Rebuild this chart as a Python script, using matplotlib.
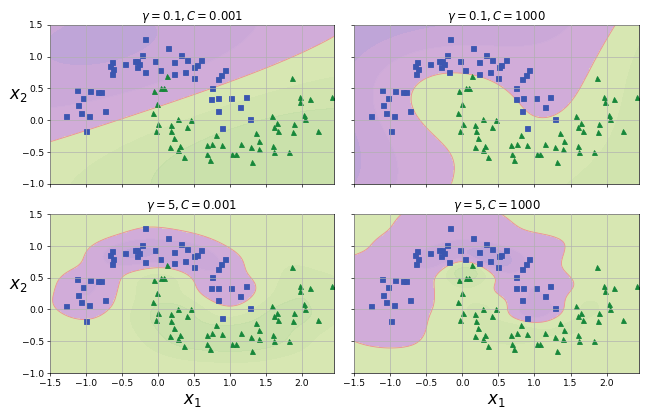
import numpy as np
import matplotlib
matplotlib.use("Agg")
import matplotlib.pyplot as plt
from matplotlib.colors import ListedColormap

# class 0 (blue squares)
blue_x1 = [-0.17, 0.15, -0.22, 0.33, 0.41, -0.63, -0.66, -0.62, -0.64, -0.45, -0.32, -0.28, -0.29, -0.26,
           -0.18, -0.04, 0.03, 0.23, 0.23, 0.38, 0.51, 0.50, 0.60, 0.54,
           -1.12, -0.94, -0.83, -0.78, -1.03, -1.10, -1.06, -0.95, -0.73, -1.27, -0.99,
           0.93, 0.88, 0.83, 0.75, 0.74, 0.84, 1.02, 1.22, 1.14, 0.83, 1.28, 0.89]
blue_x2 = [1.28, 1.13, 1.02, 1.03, 0.95, 0.92, 0.85, 0.80, 0.72, 0.89, 0.93, 0.93, 0.84, 0.88,
           0.75, 0.93, 0.79, 0.91, 0.73, 0.76, 0.84, 0.67, 0.94, 0.86,
           0.48, 0.46, 0.44, 0.44, 0.35, 0.23, 0.11, 0.07, 0.14, 0.06, -0.18,
           0.79, 0.71, 0.64, 0.51, 0.33, 0.34, 0.34, 0.37, 0.21, 0.14, 0.02, -0.13]
# class 1 (green triangles)
green_x1 = [0.13, -0.05, 0.05, 0.09, -0.01, -0.06, 0.01, -0.03, 0.18, 0.28, 0.19, 0.41, 0.46, 0.22,
            1.87, 1.97, 1.98, 2.11, 2.42, 1.58, 2.03, 2.05, 1.65, 1.61, 1.67, 1.89, 1.88, 2.23,
            0.17, 0.31, 0.28, 0.36, 0.68, 0.76, 0.81, 0.89, 0.69, 0.72, 1.03, 1.08, 1.15, 1.29,
            1.36, 1.41, 1.40, 1.60, 1.62, 1.82, 1.31]
green_x2 = [0.70, 0.46, 0.50, 0.50, 0.25, 0.11, -0.06, -0.17, -0.07, 0.01, -0.18, -0.11, 0.0, -0.29,
            0.66, 0.36, 0.29, 0.33, 0.36, 0.06, 0.08, 0.01, -0.05, -0.11, -0.17, -0.06, -0.19, -0.17,
            -0.42, -0.41, -0.47, -0.58, -0.40, -0.38, -0.24, -0.39, -0.54, -0.63, -0.54, -0.54, -0.37, -0.43,
            -0.21, -0.33, -0.46, -0.41, -0.50, -0.50, -0.66]

settings = [(0.1, 0.001), (0.1, 1000), (5, 0.001), (5, 1000)]

X = np.column_stack([blue_x1 + green_x1, blue_x2 + green_x2])
y = np.array([0] * len(blue_x1) + [1] * len(green_x1))
mu, sd = X.mean(0), X.std(0)
Xs = (X - mu) / sd
ys = np.where(y == 1, 1.0, -1.0)


def rbf(A, B, gamma):
    d = ((A[:, None, :] - B[None, :, :]) ** 2).sum(-1)
    return np.exp(-gamma * d)


def train(gamma, C, sweeps=3000):
    K = rbf(Xs, Xs, gamma) + 1.0  # bias folded into kernel
    Q = K * ys[:, None] * ys[None, :]
    a = np.zeros(len(ys))
    Qa = np.zeros(len(ys))
    for _ in range(sweeps):
        for i in range(len(ys)):
            g = Qa[i] - 1.0
            new = min(max(a[i] - g / Q[i, i], 0.0), C)
            if new != a[i]:
                Qa += (new - a[i]) * Q[:, i]
                a[i] = new
    return a


x0s = np.linspace(-1.5, 2.45, 300)
x1s = np.linspace(-1, 1.5, 200)
g0, g1 = np.meshgrid(x0s, x1s)
G = (np.column_stack([g0.ravel(), g1.ravel()]) - mu) / sd

pred_cmap = ListedColormap(["#cfaad9", "#d7e7b2"])
dec_cmap = ListedColormap(["#9a9ad8", "#c4a4d8", "#d6b2dc", "#d8e8b4", "#c6e0a8", "#aed69c"])

fig, axes = plt.subplots(2, 2, figsize=(10.8, 6.97), dpi=60, sharex=True, sharey=True)
for ax, (gamma, C) in zip(axes.ravel(), settings):
    a = train(gamma, C)
    dec = ((rbf(G, Xs, gamma) + 1.0) @ (a * ys)).reshape(g0.shape)
    pred = (dec > 0).astype(int)
    ax.contourf(g0, g1, pred, levels=[-0.5, 0.5, 1.5], cmap=pred_cmap)
    m = np.abs(dec).max()
    ax.contourf(g0, g1, dec, levels=np.linspace(-m, m, 7), cmap=dec_cmap, alpha=0.3)
    ax.contour(g0, g1, dec, levels=[0], colors="#f09090", linewidths=1)
    ax.plot(blue_x1, blue_x2, "s", color="#3b56b0", ms=6)
    ax.plot(green_x1, green_x2, "^", color="#16873a", ms=6)
    ax.axis([-1.5, 2.45, -1, 1.5])
    ax.grid(True, color="#b0b0b0")
    ax.set_axisbelow(False)
    ax.set_title(r"$\gamma = {}, C = {}$".format(gamma, C), fontsize=14)
    ax.tick_params(labelsize=11)

for ax in axes[1]:
    ax.set_xlabel(r"$x_1$", fontsize=20)
for ax in axes[:, 0]:
    ax.set_ylabel(r"$x_2$", fontsize=20, rotation=0)

plt.tight_layout()
plt.savefig("out.png")
